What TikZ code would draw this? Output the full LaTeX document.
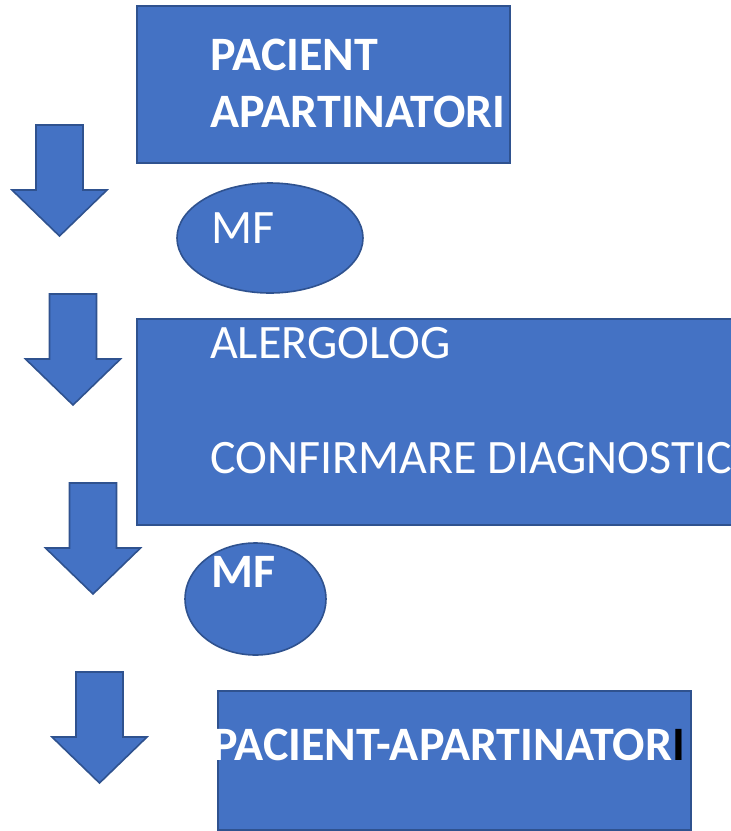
\documentclass[tikz,border=0pt]{standalone}
\usepackage{fontspec}
\setmainfont{Carlito}
\usetikzlibrary{shapes.geometric}

\definecolor{boxfill}{HTML}{4472C4}
\definecolor{boxline}{HTML}{2F528F}

\tikzset{
  shapestyle/.style={draw=boxline, fill=boxfill, line width=1.6pt},
  panel/.style={shapestyle, rectangle, inner sep=0pt, anchor=north west},
  oval/.style={shapestyle, ellipse, inner sep=0pt},
  label/.style={anchor=base west, inner sep=0pt, text=white,
                font=\fontsize{48}{58}\selectfont},
  boldlabel/.style={label, font=\fontsize{48}{58}\selectfont\bfseries},
  downarrow/.pic={
    \path[shapestyle] (-23.5,0) -- (23.5,0) -- (23.5,65) -- (47.5,65)
      -- (0,111) -- (-47.5,65) -- (-23.5,65) -- cycle;
  }
}

\begin{document}
\begin{tikzpicture}[x=1pt, y=-1pt]
  \clip (0,0) rectangle (731,831);

  % first step: patient and relatives
  \node[panel, minimum width=373pt, minimum height=157pt] (start) at (136,5) {};
  \node[boldlabel] (startA) at (210,70) {PACIENT};
  \node[boldlabel] (startB) at (210,127) {APARTINATORI};

  % family doctor
  \node[oval, minimum width=186pt, minimum height=110pt] (mf1) at (270,238) {};
  \node[label] (mf1t) at (211,243) {MF};

  % allergist
  \node[panel, minimum width=640pt, minimum height=206pt] (alerg) at (136,318) {};
  \node[label] (alergA) at (210,358) {ALERGOLOG};
  \node[label] (alergB) at (210,473) {CONFIRMARE DIAGNOSTIC};

  % family doctor again
  \node[oval, minimum width=141pt, minimum height=112pt] (mf2) at (255.5,599) {};
  \node[boldlabel] (mf2t) at (211,587) {MF};

  % back to patient and relatives
  \node[panel, minimum width=473pt, minimum height=139pt] (finish) at (217,690) {};
  \node[boldlabel] (finisht) at (212,760) {PACIENT-APARTINATOR{\color{black}I}};

  % block arrows down the left side
  \pic at (59.5,125) {downarrow};
  \pic at (73,294) {downarrow};
  \pic at (93,483) {downarrow};
  \pic at (99.5,672) {downarrow};
\end{tikzpicture}
\end{document}
